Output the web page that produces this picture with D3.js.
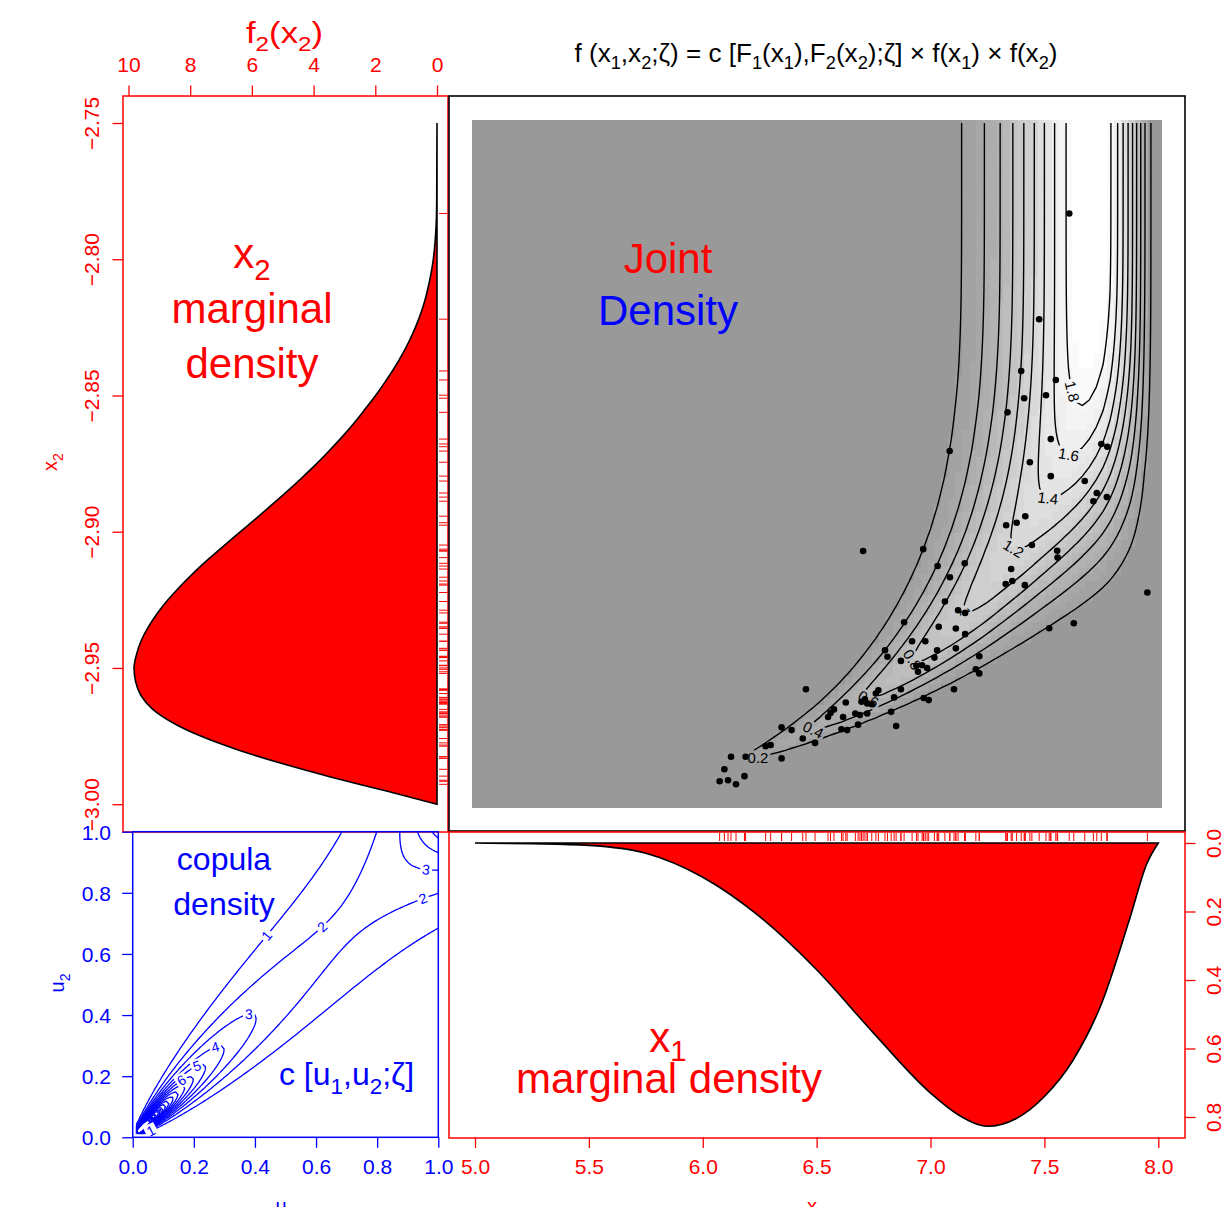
<!DOCTYPE html>
<html>
<head>
<meta charset="utf-8">
<script src="https://cdn.jsdelivr.net/npm/d3@7"></script>
<style>
  html,body{margin:0;padding:0;background:#fff;}
  svg{display:block;}
  text{font-family:"Liberation Sans",Arial,Helvetica,sans-serif;}
</style>
</head>
<body>
<svg id="fig" width="1227" height="1207" xmlns="http://www.w3.org/2000/svg"></svg>
<script>
// ================= DATA =================
// x1 marginal density f1(x1)
const x1Knots = [5.0,5.25,5.5,5.75,6.0,6.25,6.5,6.75,7.0,7.125,7.25,7.375,7.5,7.625,7.75,7.875,7.95,8.0];
const f1Knots = [0,0.002,0.007,0.03,0.1,0.215,0.37,0.555,0.73,0.795,0.827,0.805,0.74,0.635,0.47,0.22,0.06,0];
// x2 marginal density f2(x2)
const x2Knots = [-3.000,-2.995,-2.990,-2.985,-2.980,-2.975,-2.970,-2.965,-2.960,-2.955,-2.950,-2.945,-2.940,-2.935,-2.930,-2.925,-2.920,-2.915,-2.910,-2.905,-2.900,-2.895,-2.890,-2.885,-2.880,-2.875,-2.870,-2.865,-2.860,-2.855,-2.850,-2.845,-2.840,-2.835,-2.830,-2.825,-2.820,-2.815,-2.810,-2.805,-2.800,-2.790,-2.780,-2.750];
const f2Knots = [0,1.70,3.45,5.05,6.47,7.66,8.58,9.23,9.60,9.77,9.82,9.74,9.59,9.36,9.07,8.72,8.32,7.88,7.40,6.89,6.37,5.85,5.34,4.84,4.36,3.90,3.47,3.06,2.68,2.33,1.99,1.68,1.39,1.13,0.90,0.70,0.53,0.39,0.28,0.19,0.12,0.04,0.01,0];
// observations (x1, x2)
const obsX1 = [7.609,7.477,7.398,7.550,7.411,7.507,7.338,
  7.084,7.436,7.528,7.528,7.750,7.776,7.677,7.730,7.774,7.715,
  7.332,7.378,7.416,7.445,7.556,7.558,6.704,6.968,7.031,7.150,
  7.085,7.354,7.330,7.359,7.414,7.952,7.063,7.121,7.152,6.884,
  7.036,7.111,7.152,7.521,7.629,6.919,6.977,7.029,7.111,6.800,
  6.811,7.017,7.214,6.870,6.938,6.963,6.985,6.945,7.199,7.214,
  6.453,7.103,6.870,6.771,6.760,6.840,6.970,6.992,6.712,6.722,
  6.742,6.697,6.628,6.576,6.561,6.550,6.616,6.670,6.690,6.722,
  6.827,6.849,6.682,6.634,6.609,6.439,6.390,6.493,6.346,6.298,
  6.276,6.346,6.188,6.124,6.095,6.074,6.111,6.146,6.183];
const obsX2 = [-2.7832,-2.8220,-2.8410,-2.8443,-2.8510,-2.8499,-2.8562,
  -2.8704,-2.8745,-2.8660,-2.8796,-2.8678,-2.8688,-2.8814,-2.8858,-2.8873,-2.8888,
  -2.8976,-2.8967,-2.8943,-2.9049,-2.9070,-2.9095,-2.9071,-2.9064,-2.9126,-2.9116,
  -2.9167,-2.9137,-2.9192,-2.9181,-2.9196,-2.9223,-2.9256,-2.9288,-2.9298,-2.9332,
  -2.9349,-2.9355,-2.9376,-2.9354,-2.9336,-2.9402,-2.9402,-2.9435,-2.9428,-2.9435,
  -2.9459,-2.9462,-2.9457,-2.9474,-2.9492,-2.9490,-2.9500,-2.9514,-2.9505,-2.9520,
  -2.9578,-2.9578,-2.9578,-2.9582,-2.9594,-2.9608,-2.9610,-2.9618,-2.9615,-2.9630,
  -2.9633,-2.9624,-2.9627,-2.9652,-2.9665,-2.9680,-2.9680,-2.9667,-2.9673,-2.9667,
  -2.9661,-2.9713,-2.9708,-2.9728,-2.9725,-2.9759,-2.9728,-2.9775,-2.9718,-2.9783,
  -2.9787,-2.9832,-2.9826,-2.9826,-2.9872,-2.9916,-2.9912,-2.9927,-2.9897];
// copula parameter (Clayton) and contour levels
const claytonTheta = 4.5;
const jointLevels = [0.2,0.4,0.6,0.8,1.0,1.2,1.4,1.6,1.8];
const copulaLevels = [1,2,3,4,5,6,7,8,9,10,11,12,13,14,15,16,17,18,19,20];
// tick values
const f2Ticks = [0,2,4,6,8,10];
const x2Ticks = [-3.00,-2.95,-2.90,-2.85,-2.80,-2.75];
const x1Ticks = [5.0,5.5,6.0,6.5,7.0,7.5,8.0];
const f1Ticks = [0,0.2,0.4,0.6,0.8];
const uTicks  = [0,0.2,0.4,0.6,0.8,1.0];
// contour-label placement hints: [level, x, y] in data units
const jointLabelHints = [[0.2,6.239,-2.9846],[0.4,6.502,-2.9739],[0.6,6.682,-2.9637],[0.8,6.897,-2.9515],
  [1.0,7.099,-2.9332],[1.2,7.359,-2.9112],[1.4,7.490,-2.8902],[1.6,7.600,-2.8719],[1.8,7.666,-2.8473]];
const copulaLabelHints = [[1,0.438,0.656],[1,0.067,0.018],[2,0.613,0.689],[2,0.951,0.779],[3,0.382,0.406],
  [3,0.962,0.875],[4,0.273,0.291],[5,0.213,0.231],[6,0.160,0.182]];

// ================= HELPERS =================
const W = 1227, H = 1207;
const RED = "#ff0000", BLUE = "#0000ff", BLACK = "#000000";
const svg = d3.select("#fig");
const defs = svg.append("defs");

function pchip(xs, ys){
  const n = xs.length, h = [], d = [], m = new Array(n).fill(0);
  for (let i=0;i<n-1;i++){ h[i]=xs[i+1]-xs[i]; d[i]=(ys[i+1]-ys[i])/h[i]; }
  m[0]=d[0]; m[n-1]=d[n-2];
  for (let i=1;i<n-1;i++){
    if (d[i-1]*d[i] <= 0) m[i]=0;
    else { const w1=2*h[i]+h[i-1], w2=h[i]+2*h[i-1]; m[i]=(w1+w2)/(w1/d[i-1]+w2/d[i]); }
  }
  return function(x){
    if (x<=xs[0]) return ys[0];
    if (x>=xs[n-1]) return ys[n-1];
    let i = d3.bisectRight(xs, x)-1; if (i>n-2) i=n-2;
    const t=(x-xs[i])/h[i], t2=t*t, t3=t2*t;
    return (2*t3-3*t2+1)*ys[i] + (t3-2*t2+t)*h[i]*m[i] + (-2*t3+3*t2)*ys[i+1] + (t3-t2)*h[i]*m[i+1];
  };
}
function makeMarginal(xs, ys, n=4000){
  const g = pchip(xs, ys);
  const lo = xs[0], hi = xs[xs.length-1];
  const grid = d3.range(n+1).map(k=>lo+(hi-lo)*k/n);
  const vals = grid.map(x=>Math.max(0,g(x)));
  const cum = [0];
  for (let k=1;k<=n;k++) cum.push(cum[k-1]+(vals[k]+vals[k-1])/2*(hi-lo)/n);
  const tot = cum[n];
  const cdf = d3.scaleLinear(grid, cum.map(c=>c/tot)).clamp(true);
  return {pdf: x=>Math.max(0,g(x))/tot, cdf};
}
function clayton(u, v, th){
  if (u<=0 || v<=0) return 0;
  u=Math.min(u,1); v=Math.min(v,1);
  const lu=Math.log(u), lv=Math.log(v);
  const s = Math.exp(-th*lu)+Math.exp(-th*lv)-1;
  return Math.exp(Math.log(1+th) + (-th-1)*(lu+lv) + (-2-1/th)*Math.log(s));
}
function rich(parent, x, y, parts, fs, color, opts={}){
  const t = parent.append("text").attr("x",x).attr("y",y).attr("font-size",fs)
    .attr("fill",color).attr("text-anchor",opts.anchor||"middle");
  if (opts.transform) t.attr("transform",opts.transform);
  let sub=false; const sh=fs*(opts.subShift||0.28);
  parts.forEach(p=>{
    const isSub = Array.isArray(p);
    const ts = t.append("tspan").text(isSub?p[0]:p);
    if (isSub){ ts.attr("font-size",fs*0.7); if(!sub) ts.attr("dy",sh); sub=true; }
    else { if (sub) ts.attr("dy",-sh); sub=false; }
  });
  if (opts.textLength) t.attr("textLength",opts.textLength).attr("lengthAdjust","spacingAndGlyphs");
  return t;
}
function styleAxis(g, color, fs){
  g.attr("font-size",fs).attr("font-family",'"Liberation Sans",Arial,sans-serif');
  g.select(".domain").remove();
  g.selectAll(".tick line").attr("stroke",color).attr("stroke-width",1.3);
  g.selectAll(".tick text").attr("fill",color);
}
function contourLayer(parent, id, contours, gx, gy, nx, ny, clipRect, color, sw, hints, toPx, fs, fmt){
  const cp = defs.append("clipPath").attr("id","clip-"+id);
  cp.append("rect").attr("x",clipRect[0]).attr("y",clipRect[1]).attr("width",clipRect[2]-clipRect[0]).attr("height",clipRect[3]-clipRect[1]);
  const mask = defs.append("mask").attr("id","mask-"+id).attr("maskUnits","userSpaceOnUse")
    .attr("x",0).attr("y",0).attr("width",W).attr("height",H);
  mask.append("rect").attr("x",0).attr("y",0).attr("width",W).attr("height",H).attr("fill","#fff");
  const proj = d3.geoTransform({point(x,y){ this.stream.point(gx(x), gy(y)); }});
  const path = d3.geoPath(proj);
  parent.append("g").attr("clip-path",`url(#clip-${id})`)
    .append("g").attr("mask",`url(#mask-${id})`)
    .selectAll("path").data(contours).join("path")
      .attr("d", path).attr("fill","none").attr("stroke",color).attr("stroke-width",sw)
      .attr("stroke-linejoin","round");
  const lg = parent.append("g");
  hints.forEach(([lev,a,b])=>{
    const c = contours.find(c=>Math.abs(c.value-lev)<1e-9);
    if (!c) return;
    const [hx,hy] = toPx(a,b);
    let best=null, bd=Infinity;
    c.coordinates.forEach(poly=>poly.forEach(ring=>{
      const pts = ring.map(p=>[gx(p[0]),gy(p[1]),p[0],p[1]]);
      pts.forEach((p,k)=>{
        if (p[2]<=0.6||p[2]>=nx-0.6||p[3]<=0.6||p[3]>=ny-0.6) return;
        const d=(p[0]-hx)**2+(p[1]-hy)**2;
        if (d<bd){ bd=d; best={pts,k}; }
      });
    }));
    if (!best) return;
    const {pts,k}=best, n=pts.length-1;
    const p0=pts[(k-2+n)%n], p1=pts[(k+2)%n];
    let ang=Math.atan2(p1[1]-p0[1], p1[0]-p0[0])*180/Math.PI;
    if (ang>90) ang-=180; if (ang<=-90) ang+=180;
    const P=pts[k];
    const tr=`translate(${P[0]},${P[1]}) rotate(${ang})`;
    const t=lg.append("text").attr("transform",tr).attr("text-anchor","middle").attr("dy","0.35em")
      .attr("font-size",fs).attr("fill",color).text(fmt(lev));
    const w=t.node().getComputedTextLength();
    mask.append("rect").attr("transform",tr).attr("x",-w/2-2).attr("y",-fs*0.5).attr("width",w+4).attr("height",fs).attr("fill","#000");
  });
}

// ================= SCALES =================
const x1S = d3.scaleLinear([5,8],[475,1158.3]);
const x2S = d3.scaleLinear([-3.0,-2.75],[804.2,123]);
const f2S = d3.scaleLinear([0,10],[437,128.5]);
const f1S = d3.scaleLinear([0,0.8],[843,1117]);
const uS  = d3.scaleLinear([0,1],[132.7,438.3]);
const vS  = d3.scaleLinear([0,1],[1137.3,831.7]);

const M1 = makeMarginal(x1Knots, f1Knots);
const M2 = makeMarginal(x2Knots, f2Knots);

// ================= x2 MARGINAL PANEL =================
svg.append("rect").attr("x",123).attr("y",96).attr("width",325).attr("height",736)
  .attr("fill","none").attr("stroke",RED).attr("stroke-width",1.5);
const f2Data = x2Knots.map((x,i)=>({x, f:f2Knots[i]}));
svg.append("path").datum(f2Data)
  .attr("d", d3.area().y(d=>x2S(d.x)).x0(f2S(0)).x1(d=>f2S(d.f)).curve(d3.curveMonotoneY))
  .attr("fill",RED).attr("stroke",BLACK).attr("stroke-width",1.6);
svg.append("g").selectAll("line").data(obsX2).join("line")
  .attr("x1",439).attr("x2",447.5).attr("y1",d=>x2S(d)).attr("y2",d=>x2S(d))
  .attr("stroke",RED).attr("stroke-width",1);
const axTop = svg.append("g").attr("transform","translate(0,96)")
  .call(d3.axisTop(f2S).tickValues(f2Ticks).tickSize(10.5).tickSizeOuter(0).tickFormat(d3.format("d")));
styleAxis(axTop, RED, 21);
axTop.selectAll(".tick text").attr("y",-24).attr("dy",null);
const axL = svg.append("g").attr("transform","translate(123,0)")
  .call(d3.axisLeft(x2S).tickValues(x2Ticks).tickSize(10.5).tickSizeOuter(0).tickFormat(d3.format(".2f")));
styleAxis(axL, RED, 21);
axL.selectAll(".tick text").attr("x",0).attr("dy",null).attr("text-anchor","middle")
  .attr("transform","translate(-23.7,0) rotate(-90)");
rich(svg, 284.5, 43, ["f",["2"],"(x",["2"],")"], 29, RED, {textLength:77});
rich(svg, 0, 0, ["x",["2"]], 20, RED, {transform:"translate(57,462) rotate(-90)"});
rich(svg, 252, 268, ["x",["2"]], 42, RED);
rich(svg, 252, 323, ["marginal"], 42, RED);
rich(svg, 252, 378, ["density"], 42, RED);

// ================= JOINT PANEL =================
const NX=100, NY=100;
const jx = d3.range(NX).map(i=>5+i*3/(NX-1));
const jy = d3.range(NY).map(j=>-2.75-j*0.25/(NY-1));
const jz = new Array(NX*NY);
const F1x = jx.map(x=>M1.cdf(x)), f1x = jx.map(x=>M1.pdf(x));
const F2y = jy.map(y=>M2.cdf(y));
for (let j=0;j<NY;j++) for (let i=0;i<NX;i++)
  jz[j*NX+i] = clayton(F1x[i], F2y[j], claytonTheta)*f1x[i]*F2y[j];

const cellW = (x1S(8)-x1S(5))/(NX-1), cellH = (x2S(-3.0)-x2S(-2.75))/(NY-1);
const imgL = Math.round(x1S(5)-cellW/2), imgT = Math.round(x2S(-2.75)-cellH/2);
const imgW = Math.round(NX*cellW), imgH = Math.round(NY*cellH);
const cv = document.createElement("canvas"); cv.width=imgW; cv.height=imgH;
const ctx = cv.getContext("2d");
const baseLevel = 0.2, bandStep = 0.1, bandCount = 17;
const grayOf = z => z < baseLevel ? 153 :
  Math.round(162 + 93*Math.min(1, Math.floor((z-baseLevel)/bandStep+1e-9)/bandCount));
for (let j=0;j<NY;j++) for (let i=0;i<NX;i++){
  const g = grayOf(jz[j*NX+i]);
  ctx.fillStyle=`rgb(${g},${g},${g})`;
  const xa=Math.round(i*cellW), xb=Math.round((i+1)*cellW), ya=Math.round(j*cellH), yb=Math.round((j+1)*cellH);
  ctx.fillRect(xa,ya,xb-xa,yb-ya);
}
svg.append("image").attr("href",cv.toDataURL()).attr("x",imgL).attr("y",imgT)
  .attr("width",imgW).attr("height",imgH).attr("preserveAspectRatio","none");

const jc = d3.contours().size([NX,NY]).thresholds(jointLevels)(jz);
const gxJ = d3.scaleLinear([0.5,NX-0.5],[x1S(5),x1S(8)]);
const gyJ = d3.scaleLinear([0.5,NY-0.5],[x2S(-2.75),x2S(-3.0)]);
const jointG = svg.append("g");
contourLayer(jointG, "joint", jc, gxJ, gyJ, NX, NY, [x1S(5),x2S(-2.75),x1S(8),x2S(-3.0)],
  BLACK, 1.4, jointLabelHints, (a,b)=>[x1S(a),x2S(b)], 15, v=>String(+v.toFixed(1)));
svg.append("g").selectAll("circle").data(obsX1).join("circle")
  .attr("cx",d=>x1S(d)).attr("cy",(d,i)=>x2S(obsX2[i])).attr("r",3.3).attr("fill",BLACK);
rich(svg, 668, 273, ["Joint"], 42, RED);
rich(svg, 668, 325, ["Density"], 42, BLUE);
svg.append("rect").attr("x",449).attr("y",96).attr("width",736).attr("height",735)
  .attr("fill","none").attr("stroke",BLACK).attr("stroke-width",1.6);
rich(svg, 816, 62, ["f (x",["1"],",x",["2"],";ζ) = c [F",["1"],"(x",["1"],"),F",["2"],"(x",["2"],");ζ] × f(x",["1"],") × f(x",["2"],")"],
  26, BLACK, {textLength:483});

// ================= x1 MARGINAL PANEL =================
const f1Data = x1Knots.map((x,i)=>({x, f:f1Knots[i]}));
svg.append("path").datum(f1Data)
  .attr("d", d3.area().x(d=>x1S(d.x)).y0(f1S(0)).y1(d=>f1S(d.f)).curve(d3.curveMonotoneX))
  .attr("fill",RED).attr("stroke",BLACK).attr("stroke-width",1.6);
svg.append("g").selectAll("line").data(obsX1).join("line")
  .attr("x1",d=>x1S(d)).attr("x2",d=>x1S(d)).attr("y1",833).attr("y2",841)
  .attr("stroke",RED).attr("stroke-width",1);
svg.append("rect").attr("x",449).attr("y",832).attr("width",736).attr("height",306)
  .attr("fill","none").attr("stroke",RED).attr("stroke-width",1.5);
const axB = svg.append("g").attr("transform","translate(0,1137.5)")
  .call(d3.axisBottom(x1S).tickValues(x1Ticks).tickSize(10.5).tickSizeOuter(0).tickFormat(d3.format(".1f")));
styleAxis(axB, RED, 21);
axB.selectAll(".tick text").attr("y",36.5).attr("dy",null);
const axR = svg.append("g").attr("transform","translate(1185,0)")
  .call(d3.axisRight(f1S).tickValues(f1Ticks).tickSize(10.5).tickSizeOuter(0).tickFormat(d3.format(".1f")));
styleAxis(axR, RED, 21);
axR.selectAll(".tick text").attr("x",0).attr("dy",null).attr("text-anchor","middle")
  .attr("transform","translate(36,0) rotate(-90)");
rich(svg, 668, 1052, ["x",["1"]], 42, RED, {subShift:0.22});
rich(svg, 669, 1093, ["marginal density"], 42, RED);
rich(svg, 816, 1213, ["x",["1"]], 20, RED);

// ================= COPULA PANEL =================
const CN = 100;
const cu = d3.range(CN).map(i=>(i+1)/CN);
const cvv = d3.range(CN).map(j=>1-j/CN);
const cz = new Array(CN*CN);
for (let j=0;j<CN;j++) for (let i=0;i<CN;i++) cz[j*CN+i]=clayton(cu[i], cvv[j], claytonTheta);
const cc = d3.contours().size([CN,CN]).thresholds(copulaLevels)(cz);
const gxC = d3.scaleLinear([0.5,CN-0.5],[uS(cu[0]),uS(cu[CN-1])]);
const gyC = d3.scaleLinear([0.5,CN-0.5],[vS(cvv[0]),vS(cvv[CN-1])]);
const copG = svg.append("g");
contourLayer(copG, "cop", cc, gxC, gyC, CN, CN, [uS(cu[0]),vS(1),uS(1),vS(cvv[CN-1])],
  BLUE, 1.3, copulaLabelHints, (a,b)=>[uS(a),vS(b)], 14, v=>String(v));
svg.append("rect").attr("x",uS(0)).attr("y",vS(1)).attr("width",uS(1)-uS(0)).attr("height",vS(0)-vS(1))
  .attr("fill","none").attr("stroke",BLUE).attr("stroke-width",1.5);
const axCB = svg.append("g").attr("transform",`translate(0,${vS(0)})`)
  .call(d3.axisBottom(uS).tickValues(uTicks).tickSize(10.5).tickSizeOuter(0).tickFormat(d3.format(".1f")));
styleAxis(axCB, BLUE, 21);
axCB.selectAll(".tick text").attr("y",36.7).attr("dy",null);
const axCL = svg.append("g").attr("transform",`translate(${uS(0)},0)`)
  .call(d3.axisLeft(vS).tickValues(uTicks).tickSize(10.5).tickSizeOuter(0).tickFormat(d3.format(".1f")));
styleAxis(axCL, BLUE, 21);
axCL.selectAll(".tick text").attr("x",-21.7).attr("dy","0.36em").attr("text-anchor","end");
rich(svg, 224, 870, ["copula"], 32, BLUE);
rich(svg, 224, 915, ["density"], 32, BLUE);
rich(svg, 346.5, 1085, ["c [u",["1"],",u",["2"],";ζ]"], 32, BLUE);
rich(svg, 0, 0, ["u",["2"]], 20, BLUE, {transform:"translate(64,983) rotate(-90)"});
rich(svg, 285, 1213, ["u",["1"]], 20, BLUE);
</script>
</body>
</html>
